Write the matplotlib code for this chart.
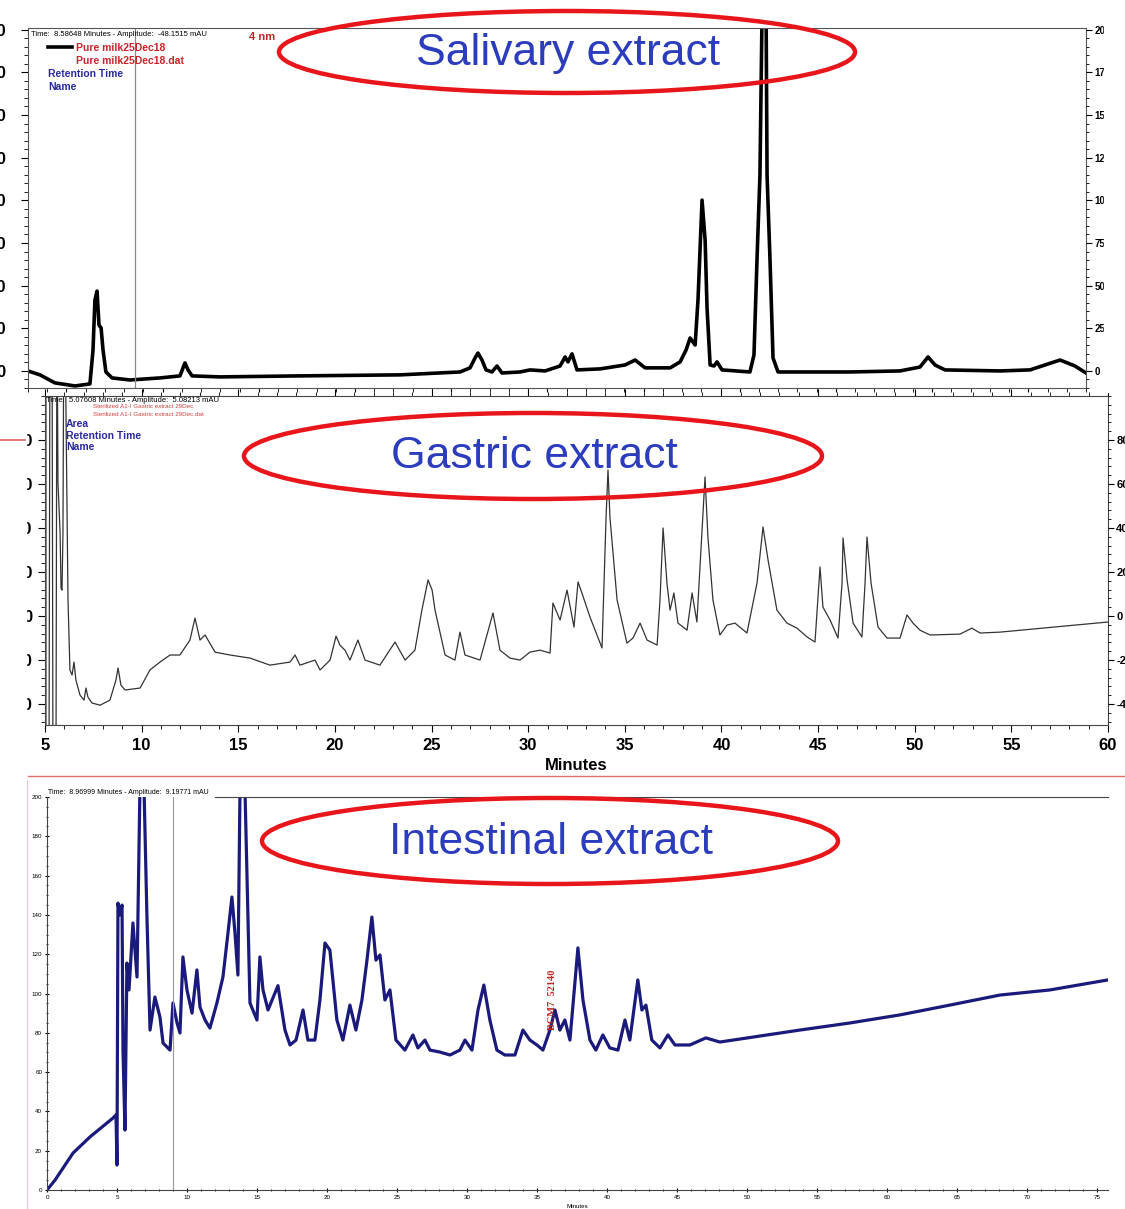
import matplotlib.pyplot as plt
from matplotlib.lines import Line2D
from matplotlib.patches import Ellipse, Rectangle
from matplotlib.ticker import MultipleLocator

plt.rcParams["font.family"] = ["Liberation Sans", "DejaVu Sans"]

W, H = 1125, 1209

# --- Salivary extract (minutes, mAU) ---
sal_min = [3.0, 3.62, 4.40, 5.44, 6.22, 6.38, 6.48, 6.59, 6.69, 6.80, 6.90, 7.05, 7.37,
           8.30, 9.86, 10.90, 11.06, 11.16, 11.32, 11.53, 12.98, 17.14, 22.34, 25.46,
           25.98, 26.24, 26.39, 26.60, 26.81, 27.12, 27.38, 27.64, 28.58, 29.10, 29.88,
           30.66, 30.92, 31.07, 31.28, 31.54, 32.74, 34.04, 34.56, 35.08, 36.38, 36.90,
           37.21, 37.42, 37.68, 37.83, 38.04, 38.20, 38.30, 38.46, 38.66, 38.82, 39.08,
           40.53, 40.74, 40.90, 41.05, 41.16, 41.37, 41.42, 41.57, 41.73, 41.99, 45.73,
           48.33, 49.37, 49.79, 50.15, 50.67, 53.53, 55.09, 55.87, 56.65, 57.43, 58.0]
sal_mau = [0, -23, -70, -88, -76, 123, 416, 468, 269, 252, 123, -6, -41,
           -53, -41, -29, 18, 47, 6, -29, -35, -29, -23, -6,
           18, 76, 105, 64, 6, -6, 29, -12, -6, 6, 0,
           29, 82, 53, 100, 6, 12, 35, 64, 18, 18, 53,
           123, 193, 152, 416, 1001, 767, 369, 35, 29, 53, 6,
           -6, 94, 662, 1148, 2100, 2100, 1148, 662, 76, -6, -6,
           0, 23, 82, 35, 6, 0, 6, 35, 64, 29, -12]

# --- Gastric extract (minutes, mAU) ---
gas_min = [5.0, 5.21, 5.26, 5.36, 5.41, 5.57, 5.62, 5.67, 5.78, 5.83, 5.88, 5.93, 5.98,
           6.03, 6.09, 6.19, 6.29, 6.40, 6.50, 6.60, 6.81, 7.02, 7.12, 7.22, 7.43, 7.85,
           8.36, 8.67, 8.78, 8.93, 9.14, 9.92, 10.43, 10.95, 11.47, 11.98, 12.50, 12.76,
           13.02, 13.28, 13.80, 14.57, 15.61, 16.64, 17.68, 17.94, 18.19, 18.97, 19.23,
           19.75, 20.06, 20.26, 20.52, 20.78, 21.19, 21.56, 22.33, 23.11, 23.63, 24.14,
           24.50, 24.82, 25.03, 25.18, 25.70, 26.21, 26.47, 26.73, 27.51, 28.18, 28.54,
           29.06, 29.58, 30.09, 30.61, 31.13, 31.28, 31.65, 32.01, 32.37, 32.58, 32.78,
           33.20, 33.82, 34.03, 34.13, 34.23, 34.60, 35.11, 35.42, 35.79, 36.15, 36.67,
           36.82, 36.98, 37.18, 37.34, 37.54, 37.75, 38.22, 38.48, 38.73, 38.99, 39.15,
           39.30, 39.56, 39.92, 40.29, 40.70, 41.32, 41.84, 42.15, 42.41, 42.87, 43.39,
           43.91, 44.43, 44.84, 44.94, 45.10, 45.25, 45.62, 46.03, 46.24, 46.29, 46.50,
           46.81, 47.27, 47.43, 47.53, 47.74, 48.10, 48.57, 49.24, 49.60, 49.91, 50.27,
           50.79, 52.34, 52.96, 53.38, 54.41, 60.0]
gas_mau = [-60, -60, 150, 150, -60, -60, 150, 61, 38, 12.7, 11.8, 38, 150,
           150, 89, 7.3, -24.5, -26.8, -20.9, -29.1, -35.9, -38.2, -32.7, -36.8, -39.5, -40.5,
           -38.2, -29.1, -23.6, -31.4, -33.6, -32.7, -24.5, -20.9, -17.7, -17.7, -10.9, -0.9,
           -10.9, -8.6, -16.4, -17.7, -19.1, -22.3, -20.9, -17.7, -22.3, -20.0, -24.5,
           -20.0, -9.1, -13.2, -15.5, -20.0, -10.9, -20.0, -22.3, -11.8, -20.0, -15.5,
           2.7, 16.4, 11.8, 2.7, -17.7, -20.0, -7.3, -17.7, -20.0, 1.4, -15.5,
           -19.1, -20.0, -16.4, -15.5, -16.8, 5.9, -1.8, 11.8, -5.0, 15.5, 10.5,
           -0.5, -14.5, 45, 66.4, 45, 7.3, -12.3, -10.0, -3.2, -10.9, -13.2,
           7.3, 40, 15, 2.7, 10.5, -3.2, -6.4, 10.5, -2.7, 37.7, 63.2,
           35.9, 7.3, -8.6, -4.1, -3.2, -7.7, 15, 40.5, 25.5, 2.7, -3.2,
           -5.5, -9.5, -11.8, 1.4, 22.3, 4.1, -1.8, -10.0, 15, 35.5, 16.4,
           -3.2, -9.5, 15, 35.9, 15, -5.0, -10.0, -10.0, 0.5, -3.2, -6.4,
           -8.6, -8.2, -5.5, -7.7, -7.3, -2.7]

# --- Intestinal extract (minutes, mAU) ---
int_min = [0.0, 0.57, 1.86, 3.07, 4.71, 4.93, 5.0, 5.07, 5.20, 5.36, 5.43, 5.57, 5.71, 5.86,
           6.14, 6.43, 6.64, 6.93, 7.14, 7.36, 7.71, 8.07, 8.29, 8.79, 9.0, 9.29, 9.5,
           9.71, 10.0, 10.36, 10.71, 10.93, 11.29, 11.64, 12.14, 12.57, 12.93, 13.21,
           13.43, 13.64, 13.79, 14.14, 14.5, 15.0, 15.21, 15.43, 15.79, 16.5, 17.0,
           17.36, 17.79, 18.29, 18.64, 19.14, 19.5, 19.86, 20.21, 20.71, 21.14, 21.64,
           22.07, 22.5, 22.86, 23.21, 23.5, 23.79, 24.14, 24.5, 24.93, 25.57, 26.14,
           26.5, 27.0, 27.36, 28.07, 28.79, 29.5, 29.86, 30.36, 30.79, 31.21, 31.64,
           32.14, 32.71, 33.43, 34.0, 34.5, 35.0, 35.43, 35.93, 36.29, 36.64, 37.0,
           37.36, 37.93, 38.29, 38.79, 39.21, 39.71, 40.21, 40.79, 41.29, 41.64, 42.21,
           42.5, 42.79, 43.21, 43.79, 44.36, 44.86, 45.93, 47.07, 48.07, 53.79, 57.36,
           60.93, 64.5, 68.07, 71.64, 75.79]
int_mau = [0, 5, 18.8, 27, 36.6, 38.2, 12.7, 146, 140, 145, 71, 30.5, 115.5, 101.8,
           135.9, 108.4, 205, 205, 139, 81.4, 98.2, 88, 74.8, 71.2, 95.2, 85, 79.9,
           118.6, 101.8, 90, 112, 93.1, 86.5, 82.4, 95.2, 108.4, 130.8, 149.1,
           130.8, 109.4, 205, 205, 95.2, 86.5, 118.6, 101.8, 91.6, 104, 81.4,
           73.8, 76.3, 91.6, 76.3, 76.3, 96.7, 125.7, 122.1, 86.5, 76.3, 94.1,
           81.4, 96.7, 117, 138.9, 117, 119.6, 96.7, 101.8, 76.3, 71.2, 78.9,
           72.3, 76.3, 71.2, 70.2, 68.7, 71.2, 76.3, 71.2, 91.6, 104.3, 86.5,
           71.2, 68.7, 68.7, 81.4, 76.3, 73.8, 71.2, 81.4, 91.6, 81.4, 86.5,
           76.3, 123.2, 96.7, 76.3, 71.2, 78.9, 72.3, 71.2, 86.5, 76.3, 106.9,
           91.6, 94.1, 76.3, 72.3, 78.9, 73.8, 73.8, 77.4, 75.3, 81.4, 85,
           89.1, 94.1, 99.2, 101.8, 106.9]

sal_yticks = list(range(0, 2001, 250))
gas_yticks = [-40, -20, 0, 20, 40, 60, 80]
gas_xticks = list(range(5, 61, 5))
int_xticks = list(range(0, 76, 5))
int_yticks = list(range(0, 201, 20))

BLUE_TITLE = "#2b3cbd"
RED = "#e8161b"


def fx(px):
    return px / W


def fy(py):
    return 1 - py / H


def box(l, t, r, b):
    return [fx(l), fy(b), (r - l) / W, (b - t) / H]


fig = plt.figure(figsize=(W / 100, H / 100), dpi=100)

# ---------------- Salivary ----------------
ax1 = fig.add_axes(box(28, 28, 1086, 388))
ax1.plot(sal_min, sal_mau, color="black", lw=2.6)
ax1.axvline(8.586, color="#8a8a8a", lw=0.9)
ax1.set_xlim(3, 58)
ax1.set_ylim(-100, 2010)
ax1.set_yticks(sal_yticks)
ax1.set_yticklabels([str(v) for v in sal_yticks], fontsize=12, fontweight="bold")
ax1.yaxis.set_minor_locator(MultipleLocator(50))
ax1.tick_params(axis="y", which="major", length=5, pad=11)
ax1.tick_params(axis="y", which="minor", length=3)
ax1.xaxis.set_major_locator(MultipleLocator(5))
ax1.xaxis.set_minor_locator(MultipleLocator(1))
ax1.tick_params(axis="x", which="both", labelbottom=False, length=3)
for s in ax1.spines.values():
    s.set_color("#555555")
    s.set_linewidth(0.8)
ax1r = ax1.twinx()
ax1r.set_ylim(-100, 2010)
ax1r.set_yticks(sal_yticks)
ax1r.set_yticklabels([str(v) for v in sal_yticks], fontsize=7, fontweight="bold")
ax1r.yaxis.set_minor_locator(MultipleLocator(50))
ax1r.tick_params(axis="y", which="major", length=4, pad=2)
ax1r.tick_params(axis="y", which="minor", length=2)
for s in ax1r.spines.values():
    s.set_visible(False)

fig.text(fx(31), fy(35), "Time:  8.58648 Minutes - Amplitude:  -48.1515 mAU",
         fontsize=5.5, va="center")
fig.text(fx(249), fy(37), "4 nm", fontsize=8, color="#c8232a", fontweight="bold", va="center")
fig.add_artist(Line2D([fx(48), fx(72)], [fy(47), fy(47)], color="black", lw=2.6))
fig.text(fx(76), fy(48), "Pure milk25Dec18", fontsize=7.5, color="#c8232a",
         fontweight="bold", va="center")
fig.text(fx(76), fy(61), "Pure milk25Dec18.dat", fontsize=7.5, color="#c8232a",
         fontweight="bold", va="center")
fig.text(fx(48), fy(74), "Retention Time", fontsize=7.5, color="#2a2aa0",
         fontweight="bold", va="center")
fig.text(fx(48), fy(87), "Name", fontsize=7.5, color="#2a2aa0", fontweight="bold", va="center")

# ---------------- Gastric ----------------
ax2 = fig.add_axes(box(45, 396, 1108, 725))
ax2.plot(gas_min, gas_mau, color="#333333", lw=0.9)
ax2.axvline(5.076, color="#8a8a8a", lw=0.8)
ax2.set_xlim(5, 60)
ax2.set_ylim(-49.5, 100)
ax2.set_xticks(gas_xticks)
ax2.set_xticklabels([str(v) for v in gas_xticks], fontsize=12, fontweight="bold")
ax2.xaxis.set_minor_locator(MultipleLocator(1))
ax2.tick_params(axis="x", which="major", length=5, pad=4, top=True)
ax2.tick_params(axis="x", which="minor", length=3, top=True)
ax2.set_xlabel("Minutes", fontsize=12, fontweight="bold", labelpad=4)
ax2.set_yticks(gas_yticks)
ax2.set_yticklabels([str(v) for v in gas_yticks], fontsize=12, fontweight="bold")
ax2.yaxis.set_minor_locator(MultipleLocator(4))
ax2.tick_params(axis="y", which="major", length=5, pad=4)
ax2.tick_params(axis="y", which="minor", length=3)
for s in ax2.spines.values():
    s.set_color("#444444")
    s.set_linewidth(0.8)
ax2r = ax2.twinx()
ax2r.set_ylim(-49.5, 100)
ax2r.set_yticks(gas_yticks)
ax2r.set_yticklabels([str(v) for v in gas_yticks], fontsize=8, fontweight="bold")
ax2r.yaxis.set_minor_locator(MultipleLocator(4))
ax2r.tick_params(axis="y", which="major", length=4, pad=2)
ax2r.tick_params(axis="y", which="minor", length=2)
for s in ax2r.spines.values():
    s.set_visible(False)

fig.text(fx(46), fy(401), "Time:  5.07608 Minutes - Amplitude:  5.08213 mAU",
         fontsize=5.5, va="center")
fig.text(fx(93), fy(407), "Sterilized A1-I Gastric extract 29Dec", fontsize=4.5,
         color="#d04040", va="center")
fig.text(fx(93), fy(414), "Sterilized A1-I Gastric extract 29Dec.dat", fontsize=4.5,
         color="#d04040", va="center")
fig.text(fx(66), fy(424), "Area", fontsize=7.5, color="#2a2aa0", fontweight="bold", va="center")
fig.text(fx(66), fy(436), "Retention Time", fontsize=7.5, color="#2a2aa0",
         fontweight="bold", va="center")
fig.text(fx(66), fy(447), "Name", fontsize=7.5, color="#2a2aa0", fontweight="bold", va="center")

# ---------------- Intestinal ----------------
ax3 = fig.add_axes(box(47, 797, 1108, 1190))
ax3.plot(int_min, int_mau, color="#1a1a7c", lw=2.3)
ax3.axvline(8.97, color="#9a9a9a", lw=0.8)
ax3.set_xlim(0, 75.8)
ax3.set_ylim(0, 200)
ax3.set_xticks(int_xticks)
ax3.set_xticklabels([str(v) for v in int_xticks], fontsize=4.5)
ax3.xaxis.set_minor_locator(MultipleLocator(1))
ax3.set_yticks(int_yticks)
ax3.set_yticklabels([str(v) for v in int_yticks], fontsize=4.5)
ax3.yaxis.set_minor_locator(MultipleLocator(5))
ax3.tick_params(which="major", length=3, pad=2, direction="inout")
ax3.tick_params(which="minor", length=2, direction="inout")
ax3.set_xlabel("Minutes", fontsize=4.5, labelpad=3)
ax3.spines["right"].set_visible(False)
ax3.spines["top"].set_bounds(12.0, 75.8)
for s in ax3.spines.values():
    s.set_color("#444444")
    s.set_linewidth(0.8)
ax3.text(36.1, 96.7, "BCM7  52140", rotation=90, ha="center", va="center",
         fontsize=7.5, color="#c42424", fontweight="bold",
         family=["Liberation Serif", "DejaVu Serif"])
fig.text(fx(48), fy(792), "Time:  8.96999 Minutes - Amplitude:  9.19771 mAU",
         fontsize=5, va="center")

# ---------------- overlays ----------------
fig.add_artist(Rectangle((fx(1104), fy(392)), 1 - fx(1104), (392 - 20) / H,
                         transform=fig.transFigure, color="white", zorder=10))
fig.add_artist(Rectangle((0, fy(725)), fx(26), (725 - 392) / H,
                         transform=fig.transFigure, color="white", zorder=10))
fig.add_artist(Line2D([0, fx(25)], [fy(440), fy(440)], color="#e06060", lw=1.2, zorder=11))
fig.add_artist(Line2D([fx(28), 1], [fy(776), fy(776)], color="#e07070", lw=1.0, zorder=11))
fig.add_artist(Line2D([fx(27), fx(27)], [fy(780), 0], color="#e8c8c8", lw=0.8, zorder=11))

titles = [
    ("Salivary extract", 567, 52, 576, 82),
    ("Gastric extract", 533, 456, 578, 86),
    ("Intestinal extract", 550, 841, 576, 86),
]
for label, cx, cy, ew, eh in titles:
    fig.add_artist(Ellipse((fx(cx), fy(cy)), ew / W, eh / H, transform=fig.transFigure,
                           fill=False, ec=RED, lw=3.2, zorder=20))
    fig.text(fx(cx + 1), fy(cy + 1), label, fontsize=32, color=BLUE_TITLE,
             ha="center", va="center", zorder=21)

fig.savefig("out.png", dpi=100)
